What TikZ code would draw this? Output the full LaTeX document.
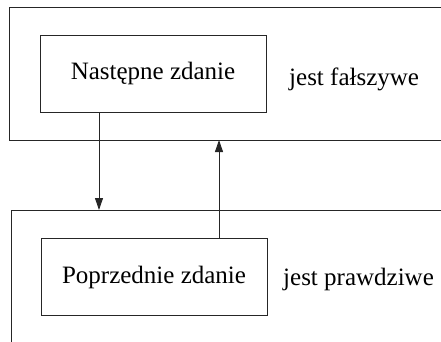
\documentclass[tikz,border=0pt]{standalone}
\usepackage{fontspec}
\setmainfont{Liberation Serif}
\usetikzlibrary{arrows.meta}
\begin{document}
\begin{tikzpicture}[x=1pt,y=-1pt,
  line/.style={draw=black!85,line width=0.9pt},
  sentbox/.style={line,minimum width=226pt,minimum height=77pt,inner sep=0pt},
  lbl/.style={font=\fontsize{25}{30}\selectfont,inner sep=0pt,anchor=base west},
  arr/.style={line,-{Triangle[length=12pt,width=8pt]}}]
\useasboundingbox (0,0) rectangle (441,342);
% frames (open to the right)
\coordinate (f1tr) at (441,7);
\coordinate (f1tl) at (9,7);
\coordinate (f1bl) at (9,140);
\coordinate (f1br) at (441,140);
\draw[line] (f1tr) -- (f1tl) -- (f1bl) -- (f1br);
\coordinate (f2tr) at (441,210);
\coordinate (f2tl) at (11,210);
\coordinate (f2bl) at (11,342);
\draw[line] (f2tr) -- (f2tl) -- (f2bl);
% boxes
\node[sentbox,font=\fontsize{25}{30}\selectfont] (b1) at (153,73.5) {Następne zdanie};
\node[sentbox,font=\fontsize{25}{30}\selectfont] (b2) at (154,277) {Poprzednie zdanie};
\node[lbl] (t1) at (289,85) {jest fałszywe};
\node[lbl] (t2) at (283,285) {jest prawdziwe};
% arrows
\coordinate (a1s) at (99,112);
\coordinate (a1e) at (99,210);
\coordinate (a2s) at (219,239);
\coordinate (a2e) at (219,140);
\draw[arr] (b1.south -| a1s) -- (a1e);
\draw[arr] (b2.north -| a2s) -- (a2e);
\end{tikzpicture}
\end{document}
